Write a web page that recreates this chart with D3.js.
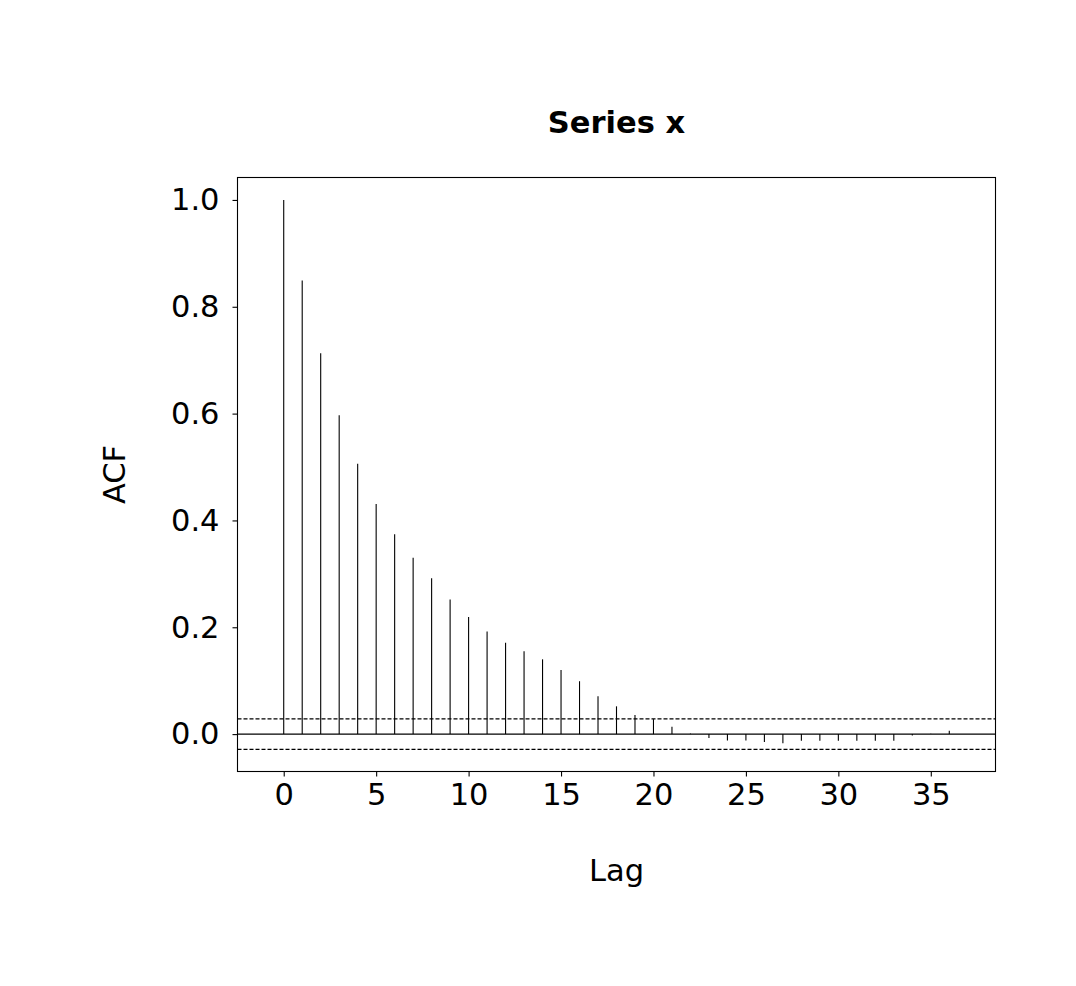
<!DOCTYPE html>
<html>
<head>
<meta charset="utf-8">
<script src="https://cdn.jsdelivr.net/npm/d3@7"></script>
<style>
  body { margin: 0; background: #fff; }
  text { font-family: "DejaVu Sans", sans-serif; fill: #000; }
</style>
</head>
<body>
<div id="chart"></div>
<script>
// lags and autocorrelation values
var lags = d3.range(0, 37);
var acfValues = [1.0, 0.849, 0.713, 0.597, 0.506, 0.431, 0.374, 0.330, 0.292, 0.252,
                 0.219, 0.192, 0.171, 0.155, 0.140, 0.120, 0.099, 0.071, 0.052, 0.036,
                 0.028, 0.014, 0.001, -0.0075, -0.012, -0.012, -0.015, -0.017, -0.0125, -0.0125,
                 -0.0125, -0.0125, -0.0125, -0.0125, -0.0026, 0.0005, 0.0062];
var confBand = 0.0285;
var xTicks = [0, 5, 10, 15, 20, 25, 30, 35];
var yTicks = [0.0, 0.2, 0.4, 0.6, 0.8, 1.0];
var title = "Series x";
var xLabel = "Lag";
var yLabel = "ACF";

var W = 1076, H = 986;
var mLeft = 237.5, mRight = 995.5, mTop = 177.5, mBottom = 771.5;
var fontSize = "30.5px";

var svg = d3.select("#chart").append("svg").attr("width", W).attr("height", H);

var x = d3.scaleLinear().domain([-2.5, 38.5]).range([mLeft, mRight]);
var y = d3.scaleLinear().domain([-0.07, 1.042]).range([mBottom, mTop]);

var data = lags.map(function(l, i) { return { lag: l, acf: acfValues[i] }; });

// stems
svg.selectAll(".stem")
  .data(data)
  .enter().append("line")
  .attr("class", "stem")
  .attr("x1", function(d) { return x(d.lag); })
  .attr("x2", function(d) { return x(d.lag); })
  .attr("y1", y(0))
  .attr("y2", function(d) { return y(d.acf); })
  .attr("stroke", "#000")
  .attr("stroke-width", 1.1);

// zero line
svg.append("line")
  .attr("x1", mLeft).attr("x2", mRight)
  .attr("y1", y(0)).attr("y2", y(0))
  .attr("stroke", "#000").attr("stroke-width", 1.1);

// confidence band
[confBand, -confBand].forEach(function(c) {
  svg.append("line")
    .attr("x1", mLeft).attr("x2", mRight)
    .attr("y1", y(c)).attr("y2", y(c))
    .attr("stroke", "#000").attr("stroke-width", 1.1)
    .attr("stroke-dasharray", "4,2");
});

// axes
var xAxis = svg.append("g")
  .attr("transform", "translate(0," + mBottom + ")")
  .call(d3.axisBottom(x).tickValues(xTicks).tickSize(5).tickPadding(7).tickFormat(d3.format("d")));
var yAxis = svg.append("g")
  .attr("transform", "translate(" + mLeft + ",0)")
  .call(d3.axisLeft(y).tickValues(yTicks).tickSize(5).tickPadding(13).tickFormat(d3.format(".1f")));

[xAxis, yAxis].forEach(function(g) {
  g.select(".domain").remove();
  g.selectAll(".tick line").attr("stroke", "#000").attr("stroke-width", 1.1);
  g.selectAll(".tick text").attr("font-size", fontSize).attr("font-family", "DejaVu Sans").attr("fill", "#000");
});

// frame
svg.append("rect")
  .attr("x", mLeft).attr("y", mTop)
  .attr("width", mRight - mLeft).attr("height", mBottom - mTop)
  .attr("fill", "none").attr("stroke", "#000").attr("stroke-width", 1.1);

// title and labels
svg.append("text")
  .attr("x", (mLeft + mRight) / 2).attr("y", 133)
  .attr("text-anchor", "middle")
  .attr("font-size", fontSize).attr("font-weight", "bold")
  .text(title);

svg.append("text")
  .attr("x", (mLeft + mRight) / 2).attr("y", 881)
  .attr("text-anchor", "middle")
  .attr("font-size", fontSize)
  .text(xLabel);

svg.append("text")
  .attr("transform", "translate(125," + ((mTop + mBottom) / 2) + ") rotate(-90)")
  .attr("text-anchor", "middle")
  .attr("font-size", fontSize)
  .text(yLabel);
</script>
</body>
</html>
